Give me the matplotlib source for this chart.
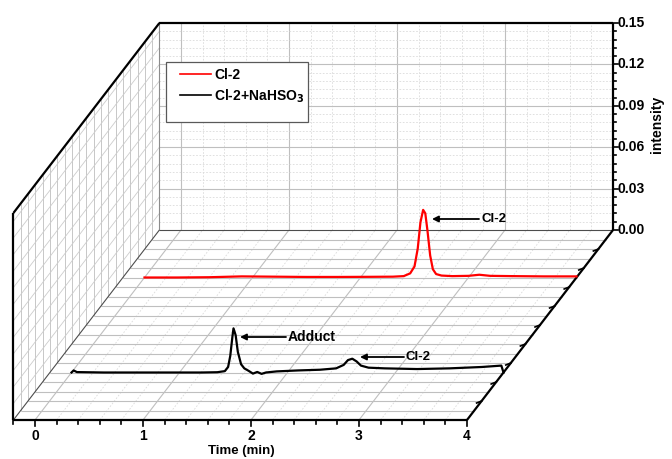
import matplotlib.pyplot as plt
from matplotlib.patches import Rectangle
import numpy as np

plt.rcParams['font.family'] = ['Liberation Sans', 'DejaVu Sans']
plt.rcParams['font.weight'] = 'bold'

# chromatogram traces
red_time = [0.00, 0.30, 0.60, 0.90, 1.20, 1.50, 1.80, 2.10, 2.30, 2.40, 2.46, 2.50,
            2.53, 2.555, 2.58, 2.60, 2.62, 2.645, 2.67, 2.70, 2.75, 2.85, 3.00, 3.10,
            3.20, 3.40, 3.70, 4.00]
red_int = [0.0000, 0.0000, 0.0002, 0.0008, 0.0006, 0.0004, 0.0004, 0.0005, 0.0006,
           0.0010, 0.0030, 0.0080, 0.0210, 0.0400, 0.0490, 0.0465, 0.0340, 0.0160,
           0.0060, 0.0025, 0.0014, 0.0010, 0.0012, 0.0020, 0.0012, 0.0010, 0.0008, 0.0008]

black_time = [0.00, 0.02, 0.05, 0.30, 0.60, 0.90, 1.20, 1.35, 1.42, 1.45, 1.47, 1.49,
              1.50, 1.52, 1.54, 1.57, 1.60, 1.64, 1.68, 1.72, 1.76, 1.80, 1.90, 2.10,
              2.30, 2.45, 2.52, 2.56, 2.60, 2.64, 2.68, 2.75, 2.90, 3.20, 3.50, 3.80,
              3.98, 4.00]
black_int = [0.0000, 0.0015, 0.0003, 0.0000, 0.0000, 0.0000, 0.0000, 0.0002, 0.0010,
             0.0040, 0.0120, 0.0260, 0.0320, 0.0270, 0.0150, 0.0060, 0.0030, 0.0012,
             -0.0008, 0.0004, -0.0010, 0.0000, 0.0008, 0.0015, 0.0020, 0.0030, 0.0055,
             0.0090, 0.0100, 0.0080, 0.0050, 0.0035, 0.0030, 0.0025, 0.0030, 0.0040,
             0.0050, 0.0000]

series_labels = ['Cl-2', 'Cl-2+NaHSO$_3$']
series_depth = [0.75, 0.25]   # position along the depth axis (0 = front, 1 = back)
series_colors = ['red', 'black']

time_ticks = [0, 1, 2, 3, 4]
int_ticks = [0.00, 0.03, 0.06, 0.09, 0.12, 0.15]

T_MIN, T_MAX = -0.2, 4.0
Z_MAX = 0.15

# oblique projection (pixel coords of a 672x459 image)
X0, Y0 = 35, 420
PX_T, PX_Z = 108, 1380
DX, DY = 146, 190


def proj(t, d, z):
    t = np.asarray(t, dtype=float)
    z = np.asarray(z, dtype=float)
    return X0 + t * PX_T + d * DX, Y0 - d * DY - z * PX_Z


def seg(ax, p0, p1, **kw):
    x0, y0 = proj(*p0)
    x1, y1 = proj(*p1)
    ax.plot([x0, x1], [y0, y1], solid_capstyle='butt', **kw)


fig = plt.figure(figsize=(6.72, 4.59), dpi=100)
ax = fig.add_axes([0, 0, 1, 1])
ax.set_xlim(0, 672)
ax.set_ylim(459, 0)
ax.axis('off')

major = dict(color='0.75', lw=0.8, zorder=1)
minor = dict(color='0.86', lw=0.6, ls=(0, (2, 2)), zorder=1)

# back wall
for t in np.arange(0, 4.0, 0.2):
    style = major if abs(t - round(t)) < 1e-6 else minor
    seg(ax, (t, 1, 0), (t, 1, Z_MAX), **style)
for z in np.arange(0.006, 0.15, 0.006):
    style = major if abs(z / 0.03 - round(z / 0.03)) < 1e-6 else minor
    seg(ax, (T_MIN, 1, z), (T_MAX, 1, z), **style)

# floor
for t in np.arange(0, 4.0, 0.2):
    style = major if abs(t - round(t)) < 1e-6 else minor
    seg(ax, (t, 0, 0), (t, 1, 0), **style)
for d in np.arange(0.05, 1.0, 0.05):
    seg(ax, (T_MIN, d, 0), (T_MAX, d, 0), **major)

# left wall
for d in np.arange(0.05, 1.0, 0.05):
    seg(ax, (T_MIN, d, 0), (T_MIN, d, Z_MAX), color='0.78', lw=0.7, zorder=1)
for z in np.arange(0.012, 0.15, 0.012):
    seg(ax, (T_MIN, 0, z), (T_MIN, 1, z), color='0.8', lw=0.6, zorder=1)
seg(ax, (T_MIN, 1, 0), (T_MIN, 1, Z_MAX), color='0.55', lw=0.8, zorder=1)
seg(ax, (T_MIN, 1, 0), (T_MAX, 1, 0), color='0.3', lw=0.8, zorder=2)
seg(ax, (T_MIN, 0, 0), (T_MIN, 1, 0), color='0.3', lw=0.8, zorder=2)

# frame
frame = dict(color='black', lw=1.6, zorder=3)
seg(ax, (T_MIN, 0, 0), (T_MAX, 0, 0), **frame)
seg(ax, (T_MIN, 0, 0), (T_MIN, 0, Z_MAX), **frame)
seg(ax, (T_MIN, 0, Z_MAX), (T_MIN, 1, Z_MAX), **frame)
seg(ax, (T_MIN, 1, Z_MAX), (T_MAX, 1, Z_MAX), **frame)
seg(ax, (T_MAX, 1, 0), (T_MAX, 1, Z_MAX), **frame)
seg(ax, (T_MAX, 0, 0), (T_MAX, 1, 0), **frame)

# time axis ticks
for t in np.arange(T_MIN, T_MAX + 0.01, 0.2):
    x, y = proj(t, 0, 0)
    is_major = abs(t - round(t)) < 1e-6
    ax.plot([x, x], [y, y + (6 if is_major else 4)], color='black', lw=1.2, zorder=3)
for t in time_ticks:
    x, y = proj(t, 0, 0)
    ax.text(x, y + 9, str(t), ha='center', va='top', fontsize=10, fontweight='bold')
tx, ty = proj(2, 0, 0)
ax.text(tx - 10, ty + 25, 'Time (min)', ha='center', va='top', fontsize=9.5, fontweight='bold')

# intensity axis ticks
for z in np.arange(0, Z_MAX + 1e-6, 0.006):
    x, y = proj(T_MAX, 1, z)
    is_major = abs(z / 0.03 - round(z / 0.03)) < 1e-6
    ax.plot([x, x + (5 if is_major else 3)], [y, y], color='black', lw=1.2, zorder=3)
for z in int_ticks:
    x, y = proj(T_MAX, 1, z)
    ax.text(x + 4, y, f'{z:.2f}', ha='left', va='center', fontsize=10, fontweight='bold')
x, y = proj(T_MAX, 1, 0.075)
ax.text(x + 44, y - 2, 'intensity', rotation=90, ha='center', va='center',
        fontsize=10, fontweight='bold')

# depth axis ticks
for d in np.arange(0.1, 1.0, 0.1):
    x, y = proj(T_MAX, d, 0)
    ax.plot([x - 5, x], [y + 2, y], color='black', lw=1.2, zorder=3)

# traces
handles = []
for tt, ii, d, c, lab in zip([red_time, black_time], [red_int, black_int],
                             series_depth, series_colors, series_labels):
    x, y = proj(tt, d, ii)
    h, = ax.plot(x, y, color=c, lw=1.6, zorder=4, label=lab)
    handles.append(h)

# legend box (Origin-style, with extra room at the bottom)
ax.add_patch(Rectangle((166, 62), 142, 60, facecolor='white', edgecolor='0.35',
                       lw=0.9, zorder=5))
leg = ax.legend(handles=handles, loc='upper left',
                bbox_to_anchor=(180 / 672, 1 - 68 / 459), fontsize=10,
                frameon=False, borderpad=0, labelspacing=0.38,
                handlelength=2.2, handletextpad=0.25, borderaxespad=0)
leg.set_zorder(6)
for line in leg.get_lines():
    line.set_linewidth(1.2)
for txt in leg.get_texts():
    txt.set_fontweight('bold')

# peak annotations
arrow = dict(arrowstyle='-|>', color='black', lw=1.3, mutation_scale=9, shrinkA=0, shrinkB=0)
ax.annotate('', xy=(432, 219), xytext=(479, 219), arrowprops=arrow, zorder=5)
ax.text(481, 219, 'Cl-2', ha='left', va='center', fontsize=9.5, fontweight='bold')
ax.annotate('', xy=(240, 337), xytext=(286, 337), arrowprops=arrow, zorder=5)
ax.text(288, 337, 'Adduct', ha='left', va='center', fontsize=10, fontweight='bold')
ax.annotate('', xy=(360, 357), xytext=(404, 357), arrowprops=arrow, zorder=5)
ax.text(406, 357, 'Cl-2', ha='left', va='center', fontsize=9.5, fontweight='bold')

fig.savefig('out.png', dpi=100)
